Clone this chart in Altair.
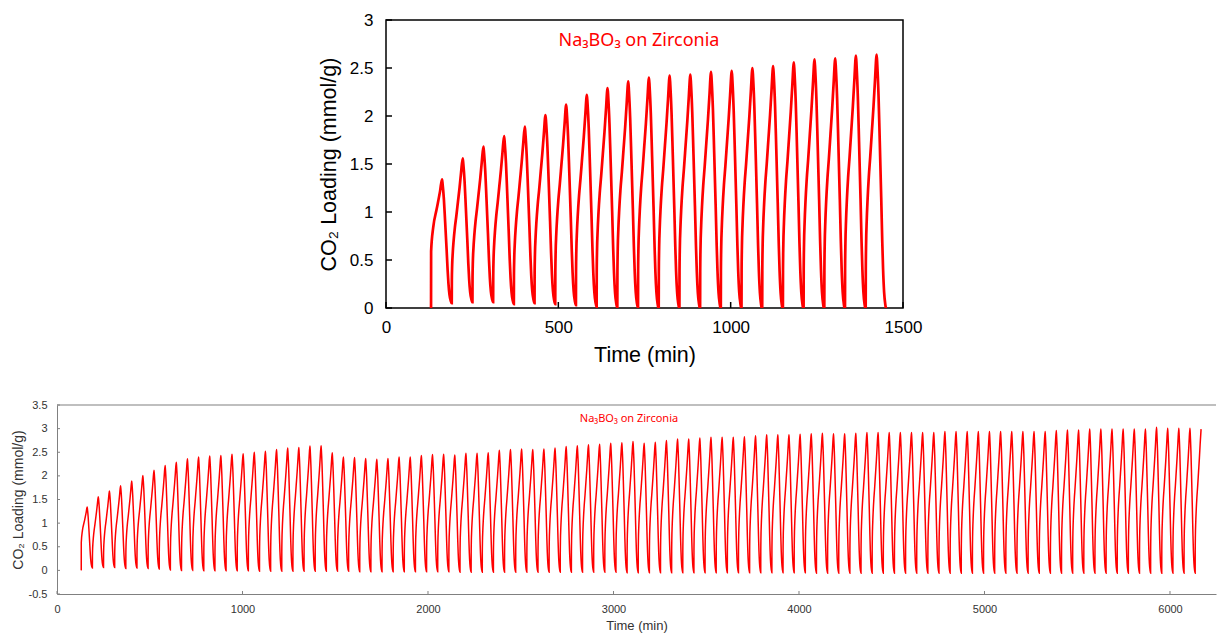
import altair as alt
import pandas as pd

# ---------------- data ----------------
time_start = 130.7          # min, start of first adsorption step
cycle_minutes = 60.05       # length of one adsorption/desorption cycle
top_end_minutes = 1452.0    # the top panel shows the first 22 cycles

# first adsorption step (jump then rise)
first_rise_t = [130.7, 130.9, 137.0, 147.0, 157.0]
first_rise_v = [0.0, 0.59, 0.84, 1.03, 1.22]

# shape of one cycle (fraction of cycle time, fraction of swing)
rise_u = [0.0, 0.005, 0.02, 0.05, 0.09, 0.15, 0.22, 0.30, 0.38, 0.45, 0.53]
rise_f = [0.0, 0.16, 0.26, 0.35, 0.43, 0.52, 0.60, 0.70, 0.80, 0.90, 1.0]
fall_u = [0.53, 0.56, 0.62, 0.68, 0.75, 0.80, 0.84, 0.89, 0.95]
fall_f = [1.0, 0.96, 0.84, 0.66, 0.44, 0.27, 0.16, 0.07, 0.02]

# peak CO2 loading of each cycle (mmol/g); last value = end of the partial final cycle
peaks = [1.34, 1.56, 1.68, 1.79, 1.89, 2.01, 2.12, 2.22, 2.29, 2.36,
         2.40, 2.42, 2.43, 2.46, 2.47, 2.50, 2.52, 2.56, 2.59, 2.60,
         2.63, 2.64,
         2.49, 2.40, 2.39, 2.37, 2.35, 2.37, 2.40, 2.40, 2.43, 2.45,
         2.46, 2.44, 2.48, 2.48, 2.49, 2.54, 2.56, 2.57, 2.56, 2.57,
         2.59, 2.62, 2.64, 2.66, 2.67, 2.69, 2.70, 2.73,
         2.69, 2.71, 2.75, 2.78, 2.78, 2.80, 2.82, 2.82, 2.82, 2.83,
         2.85, 2.87, 2.87, 2.87, 2.88, 2.89,
         2.90, 2.89, 2.89, 2.90, 2.92, 2.92, 2.92, 2.92, 2.92, 2.92,
         2.92, 2.94, 2.94, 2.94, 2.94, 2.94, 2.94,
         2.94, 2.94, 2.94, 2.94, 2.96, 2.97, 2.97, 2.99, 2.99, 2.99,
         2.99, 2.99, 2.99, 3.03, 3.01, 3.01, 3.01,
         2.99]

# minimum loading reached at the end of each desorption step (mmol/g)
troughs = [0.05, 0.06, 0.06, 0.04, 0.05, 0.04, 0.03, 0.01, 0.00, 0.00,
           -0.01, -0.01, -0.01, -0.01, -0.01, -0.02, -0.02, -0.02, -0.02, -0.02,
           -0.02, -0.02,
           -0.02, -0.02, -0.03, -0.03, -0.03, -0.03, -0.03, -0.03, -0.03, -0.03,
           -0.03, -0.04, -0.04, -0.04, -0.04, -0.04, -0.04, -0.04, -0.04, -0.04,
           -0.04, -0.04, -0.04, -0.04, -0.04, -0.04, -0.05, -0.05,
           -0.05, -0.05, -0.05, -0.05, -0.05, -0.05, -0.05, -0.05, -0.05, -0.05,
           -0.05, -0.05, -0.05, -0.05, -0.05, -0.06,
           -0.06, -0.06, -0.06, -0.06, -0.06, -0.06, -0.06, -0.06, -0.06, -0.06,
           -0.06, -0.06, -0.06, -0.06, -0.06, -0.06, -0.06,
           -0.06, -0.06, -0.06, -0.06, -0.06, -0.06, -0.06, -0.06, -0.06, -0.06,
           -0.06, -0.06, -0.06, -0.06, -0.06, -0.06, -0.06]

top_x_ticks = [0, 500, 1000, 1500]
top_y_ticks = [0, 0.5, 1, 1.5, 2, 2.5, 3]
bot_x_ticks = [0, 1000, 2000, 3000, 4000, 5000, 6000]
bot_y_ticks = [-0.5, 0, 0.5, 1, 1.5, 2, 2.5, 3, 3.5]
label_text = "Na\u2083BO\u2083 on Zirconia"
y_title = "CO\u2082 Loading (mmol/g)"
x_title = "Time (min)"

# ---------------- build the trace ----------------
rows = []
for t, v in zip(first_rise_t, first_rise_v):
    rows.append((t, v))
for k, pk in enumerate(peaks):
    c0 = time_start + k * cycle_minutes
    if k == 0:
        rows.append((c0 + rise_u[-1] * cycle_minutes, pk))
    else:
        lo = troughs[k - 1]
        for u, f in zip(rise_u, rise_f):
            rows.append((c0 + u * cycle_minutes, lo + f * (pk - lo)))
    if k < len(troughs):
        lo2 = troughs[k]
        for u, f in zip(fall_u[1:], fall_f[1:]):
            rows.append((c0 + u * cycle_minutes, lo2 + f * (pk - lo2)))

df = pd.DataFrame(rows, columns=["t", "v"])
top_df = df[df["t"] <= top_end_minutes]

RED = "#ff0000"
AX_FONT = "Liberation Sans"

# ---------------- top panel ----------------
TW, TH = 517, 288
tx = alt.X("t:Q", title=x_title,
           scale=alt.Scale(domain=[0, 1500], nice=False, zero=False),
           axis=alt.Axis(values=top_x_ticks, labelExpr="'' + datum.value", ticks=False,
                         labelFlush=False, domain=False, grid=False, labelFont=AX_FONT,
                         labelFontSize=17, labelColor="black", labelPadding=11.5,
                         titleFont=AX_FONT, titleFontSize=21.5, titleFontWeight="normal",
                         titleColor="black", titlePadding=8.5))
ty = alt.Y("v:Q", title=y_title,
           scale=alt.Scale(domain=[0, 3], nice=False, zero=False),
           axis=alt.Axis(values=top_y_ticks, labelExpr="'' + datum.value", ticks=False,
                         labelFlush=False, domain=False, grid=False, labelFont=AX_FONT,
                         labelFontSize=17, labelColor="black", labelPadding=13,
                         titleFont=AX_FONT, titleFontSize=21.5, titleFontWeight="normal",
                         titleColor="black", titlePadding=9))

top_line = alt.Chart(top_df).mark_line(color=RED, strokeWidth=2.7, clip=True,
                                       interpolate="monotone").encode(x=tx, y=ty)
top_xt = alt.Chart(pd.DataFrame({"t": top_x_ticks})).mark_rule(
    color="black", strokeWidth=1.5).encode(x=tx, y=alt.value(TH), y2=alt.value(TH - 6))
top_yt = alt.Chart(pd.DataFrame({"v": top_y_ticks})).mark_rule(
    color="black", strokeWidth=1.5).encode(y=ty, x=alt.value(0), x2=alt.value(6))
top_lbl = alt.Chart(pd.DataFrame({"s": [label_text]})).mark_text(
    color=RED, font="Noto Sans", fontSize=18, align="center", baseline="middle"
).encode(text="s:N", x=alt.value(253), y=alt.value(21))

top = alt.layer(top_line, top_xt, top_yt, top_lbl).properties(
    width=TW, height=TH, view=alt.ViewBackground(stroke="black", strokeWidth=1.5))

spacer = alt.Chart(pd.DataFrame({"a": [0]})).mark_point(opacity=0).properties(
    width=259, height=10, view=alt.ViewBackground(stroke="transparent"))

top_row = alt.hconcat(spacer, top, spacing=0)

# ---------------- bottom panel ----------------
BW, BH = 1159, 189
GRAY = "#808080"
bx = alt.X("t:Q", title=x_title,
           scale=alt.Scale(domain=[0, 6248], nice=False, zero=False),
           axis=alt.Axis(values=bot_x_ticks, labelExpr="'' + datum.value", ticks=False,
                         labelFlush=False, domain=True, domainColor=GRAY, domainWidth=1,
                         grid=False, labelFont=AX_FONT, labelFontSize=11,
                         labelColor="#333333", labelPadding=9, titleFont=AX_FONT,
                         titleFontSize=13, titleFontWeight="normal", titleColor="#333333",
                         titlePadding=5))
by = alt.Y("v:Q", title=y_title,
           scale=alt.Scale(domain=[-0.5, 3.5], nice=False, zero=False),
           axis=alt.Axis(values=bot_y_ticks, labelExpr="'' + datum.value", ticks=False,
                         labelFlush=False, domain=True, domainColor=GRAY, domainWidth=1,
                         grid=False, labelFont=AX_FONT, labelFontSize=11,
                         labelColor="#333333", labelPadding=10, titleFont=AX_FONT,
                         titleFontSize=14, titleFontWeight="normal", titleColor="#333333",
                         titlePadding=3))

bot_line = alt.Chart(df).mark_line(color=RED, strokeWidth=1.5, clip=True,
                                   interpolate="monotone").encode(x=bx, y=by)
bot_xt = alt.Chart(pd.DataFrame({"t": bot_x_ticks})).mark_rule(
    color=GRAY, strokeWidth=1).encode(x=bx, y=alt.value(BH), y2=alt.value(BH - 3))
bot_yt = alt.Chart(pd.DataFrame({"v": bot_y_ticks})).mark_rule(
    color=GRAY, strokeWidth=1).encode(y=by, x=alt.value(0), x2=alt.value(3))
bot_border = alt.Chart(pd.DataFrame({"a": [0]})).mark_rule(
    color=GRAY, strokeWidth=1.2).encode(x=alt.value(0), x2=alt.value(BW), y=alt.value(0))
bot_lbl = alt.Chart(pd.DataFrame({"s": [label_text]})).mark_text(
    color=RED, font="Noto Sans", fontSize=11, align="center", baseline="middle"
).encode(text="s:N", x=alt.value(572), y=alt.value(14))

bottom = alt.layer(bot_line, bot_xt, bot_yt, bot_border, bot_lbl).properties(
    width=BW, height=BH, view=alt.ViewBackground(stroke="transparent"))

chart = alt.vconcat(top_row, bottom, spacing=31).properties(
    padding={"left": 10, "top": 10, "right": 0, "bottom": 0},
    background="white")

chart.save("out.html", embed_options={"renderer": "svg", "actions": False})
